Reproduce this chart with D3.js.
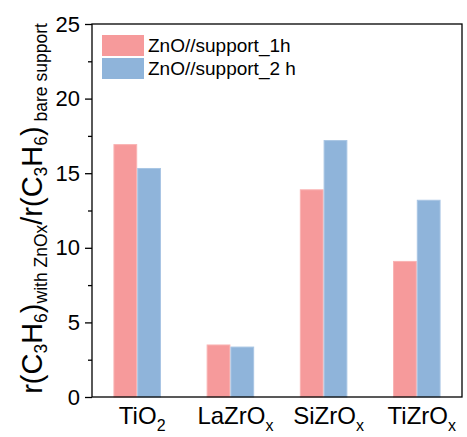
<!DOCTYPE html>
<html>
<head>
<meta charset="utf-8">
<script src="https://cdn.jsdelivr.net/npm/d3@7/dist/d3.min.js"></script>
<style>
  html, body { margin: 0; padding: 0; background: #fff; }
  svg { display: block; font-family: "Liberation Sans", Arial, sans-serif; }
</style>
</head>
<body>
<div id="chart"></div>
<script>
/* grouped bars: rate ratio per support, 1 h vs 2 h */

const categories = ['TiO2', 'LaZrOx', 'SiZrOx', 'TiZrOx'];
// label pieces: [main, subscript]
const catLabels = [['TiO', '2'], ['LaZrO', 'x'], ['SiZrO', 'x'], ['TiZrO', 'x']];
const seriesNames = ['ZnO//support_1h', 'ZnO//support_2 h'];
const values1h = [16.95, 3.52, 13.92, 9.12];
const values2h = [15.35, 3.38, 17.22, 13.22];
const yTicks = [0, 5, 10, 15, 20, 25];
const yMinorTicks = [2.5, 7.5, 12.5, 17.5, 22.5];

const COLORS = ['#f69a9b', '#8fb4da'];
const STROKES = ['#f9b3b3', '#a8c5e4'];

const W = 467, H = 437;
const M = { left: 92, right: 5, top: 24, bottom: 40 };
const x0 = M.left, x1 = W - M.right;
const yTop = M.top, yBot = H - M.bottom;

const svg = d3.select('#chart').append('svg')
  .attr('width', W).attr('height', H);

/* ── Scales ── */
const x = d3.scaleBand()
  .domain(categories)
  .range([x0, x1])
  .paddingInner(0.49)
  .paddingOuter(0.23);

const xs = d3.scaleBand()
  .domain(seriesNames)
  .range([0, x.bandwidth()]);

const y = d3.scaleLinear().domain([0, 25]).range([yBot, yTop]);

/* ── Bars ── */
const rows = categories.map((c, i) => ({ cat: c, vals: [values1h[i], values2h[i]] }));

const grp = svg.append('g').selectAll('g')
  .data(rows)
  .join('g')
  .attr('transform', d => `translate(${x(d.cat)},0)`);

grp.selectAll('rect')
  .data(d => d.vals.map((v, k) => ({ v, k })))
  .join('rect')
  .attr('x', d => xs(seriesNames[d.k]) + 0.5)
  .attr('y', d => y(d.v) + 0.5)
  .attr('width', xs.bandwidth() - 1)
  .attr('height', d => y(0) - y(d.v) - 0.5)
  .attr('fill', d => COLORS[d.k])
  .attr('stroke', d => STROKES[d.k])
  .attr('stroke-width', 1);

/* ── Frame ── */
svg.append('rect')
  .attr('x', x0).attr('y', yTop)
  .attr('width', x1 - x0).attr('height', yBot - yTop)
  .attr('fill', 'none')
  .attr('stroke', '#000')
  .attr('stroke-width', 1.3);

/* ── Y axis ── */
const yAxis = d3.axisLeft(y).tickValues(yTicks).tickSize(7).tickPadding(5)
  .tickFormat(d3.format('d'));
const yg = svg.append('g').attr('transform', `translate(${x0},0)`).call(yAxis);
yg.select('.domain').remove();
yg.selectAll('line').attr('stroke', '#000').attr('stroke-width', 1.3);
yg.selectAll('text')
  .attr('font-family', '"Liberation Sans", Arial, sans-serif')
  .attr('font-size', 22).attr('fill', '#000');

const ym = d3.axisLeft(y).tickValues(yMinorTicks).tickSize(4).tickFormat('');
const ymg = svg.append('g').attr('transform', `translate(${x0},0)`).call(ym);
ymg.select('.domain').remove();
ymg.selectAll('line').attr('stroke', '#000').attr('stroke-width', 1.3);

/* ── X labels ── */
const xl = svg.append('g').selectAll('text')
  .data(categories)
  .join('text')
  .attr('x', d => x(d) + x.bandwidth() / 2 + 5)
  .attr('y', yBot + 27)
  .attr('text-anchor', 'middle')
  .attr('font-size', 24)
  .attr('fill', '#000');
xl.append('tspan').text((d, i) => catLabels[i][0]);
xl.append('tspan').attr('font-size', 16).attr('dy', 6.5).text((d, i) => catLabels[i][1]);

/* ── Y title ── */
const yt = svg.append('text')
  .attr('transform', `translate(42,${(yTop + yBot) / 2 - 2}) rotate(-90)`)
  .attr('text-anchor', 'middle')
  .attr('font-size', 29)
  .attr('fill', '#000');
const SUB = 17.5, SH = 5;
const parts = [
  ['r(C', 0], ['3', 1], ['H', 0], ['6', 1], [')', 0], ['with ZnOx', 1],
  ['/r(C', 0], ['3', 1], ['H', 0], ['6', 1], [')', 0], ['\u00a0bare support', 1],
];
let shifted = false;
parts.forEach(([t, sub]) => {
  const ts = yt.append('tspan').text(t);
  if (sub) {
    ts.attr('font-size', SUB);
    if (!shifted) { ts.attr('dy', SH); shifted = true; }
  } else if (shifted) {
    ts.attr('dy', -SH); shifted = false;
  }
});

/* ── Legend ── */
const lg = svg.append('g').attr('transform', 'translate(102,35)');
const li = lg.selectAll('g')
  .data(seriesNames)
  .join('g')
  .attr('transform', (d, i) => `translate(0,${i * 23})`);
li.append('rect')
  .attr('width', 42).attr('height', 21)
  .attr('fill', (d, i) => COLORS[i]);
li.append('text')
  .attr('x', 46).attr('y', 10.5)
  .attr('dy', '0.35em')
  .attr('font-size', 19)
  .attr('fill', '#000')
  .text(d => d);
</script>
</body>
</html>
